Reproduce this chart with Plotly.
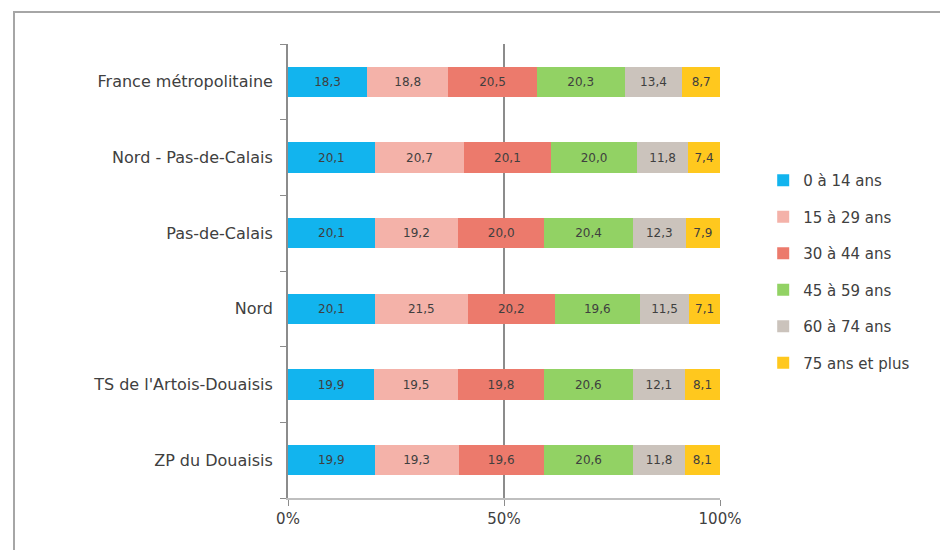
import plotly.graph_objects as go

categories = ["France métropolitaine", "Nord - Pas-de-Calais", "Pas-de-Calais",
              "Nord", "TS de l'Artois-Douaisis", "ZP du Douaisis"]
series_names = ["0 à 14 ans", "15 à 29 ans", "30 à 44 ans", "45 à 59 ans",
                "60 à 74 ans", "75 ans et plus"]
age_0_14 = [18.3, 20.1, 20.1, 20.1, 19.9, 19.9]
age_15_29 = [18.8, 20.7, 19.2, 21.5, 19.5, 19.3]
age_30_44 = [20.5, 20.1, 20.0, 20.2, 19.8, 19.6]
age_45_59 = [20.3, 20.0, 20.4, 19.6, 20.6, 20.6]
age_60_74 = [13.4, 11.8, 12.3, 11.5, 12.1, 11.8]
age_75p = [8.7, 7.4, 7.9, 7.1, 8.1, 8.1]
x_tick_vals = [0, 50, 100]
x_tick_labels = ["0%", "50%", "100%"]

series_values = [age_0_14, age_15_29, age_30_44, age_45_59, age_60_74, age_75p]
colors = ["#12B4EE", "#F4B2A9", "#EC7A6C", "#92D264", "#CBC3BC", "#FFC81E"]

FONT = "DejaVu Sans"
fig = go.Figure()
for name, vals, col in zip(series_names, series_values, colors):
    fig.add_trace(go.Bar(
        y=categories, x=vals, name=name, orientation="h",
        marker=dict(color=col, line=dict(width=0)),
        text=[f"{v:.1f}".replace(".", ",") for v in vals],
        textposition="inside", insidetextanchor="middle",
        textfont=dict(family=FONT, size=12, color="#3F3F3F"),
        legendgroup=name,
    ))

fig.update_layout(
    barmode="stack", barnorm="percent", bargap=0.6,
    width=940, height=550,
    margin=dict(l=288, r=220, t=44, b=52),
    paper_bgcolor="white", plot_bgcolor="white",
    font=dict(family=FONT, size=15, color="#404040"),
    uniformtext=dict(mode="show", minsize=9),
    legend=dict(x=1.10, y=(498 - 164) / 454, yanchor="top", xanchor="left",
                traceorder="grouped", tracegroupgap=14,
                font=dict(family=FONT, size=15, color="#404040"),
                itemwidth=30),
    showlegend=True,
    xaxis=dict(range=[0, 100], tickvals=x_tick_vals, ticktext=x_tick_labels,
               showgrid=True, gridcolor="#8C8C8C", gridwidth=1.5,
               showline=True, linecolor="#BFBFBF", linewidth=2,
               ticks="outside", ticklen=6, tickcolor="#8C8C8C",
               zeroline=False, fixedrange=True,
               tickfont=dict(family=FONT, size=15, color="#404040")),
    yaxis=dict(categoryorder="array", categoryarray=categories[::-1],
               showline=True, linecolor="#8C8C8C", linewidth=1.5,
               ticks="outside", ticklen=6, tickcolor="#8C8C8C",
               tickson="boundaries", showgrid=False,
               ticksuffix="  ",
               tickfont=dict(family=FONT, size=16, color="#404040")),
    shapes=[dict(type="rect", xref="paper", yref="paper",
                 x0=(14 - 288) / 432, x1=1.7, y0=-0.3, y1=(498 - 12) / 454,
                 line=dict(color="#A6A6A6", width=2), fillcolor="rgba(0,0,0,0)",
                 layer="below")],
)

fig.write_html("out.html")
